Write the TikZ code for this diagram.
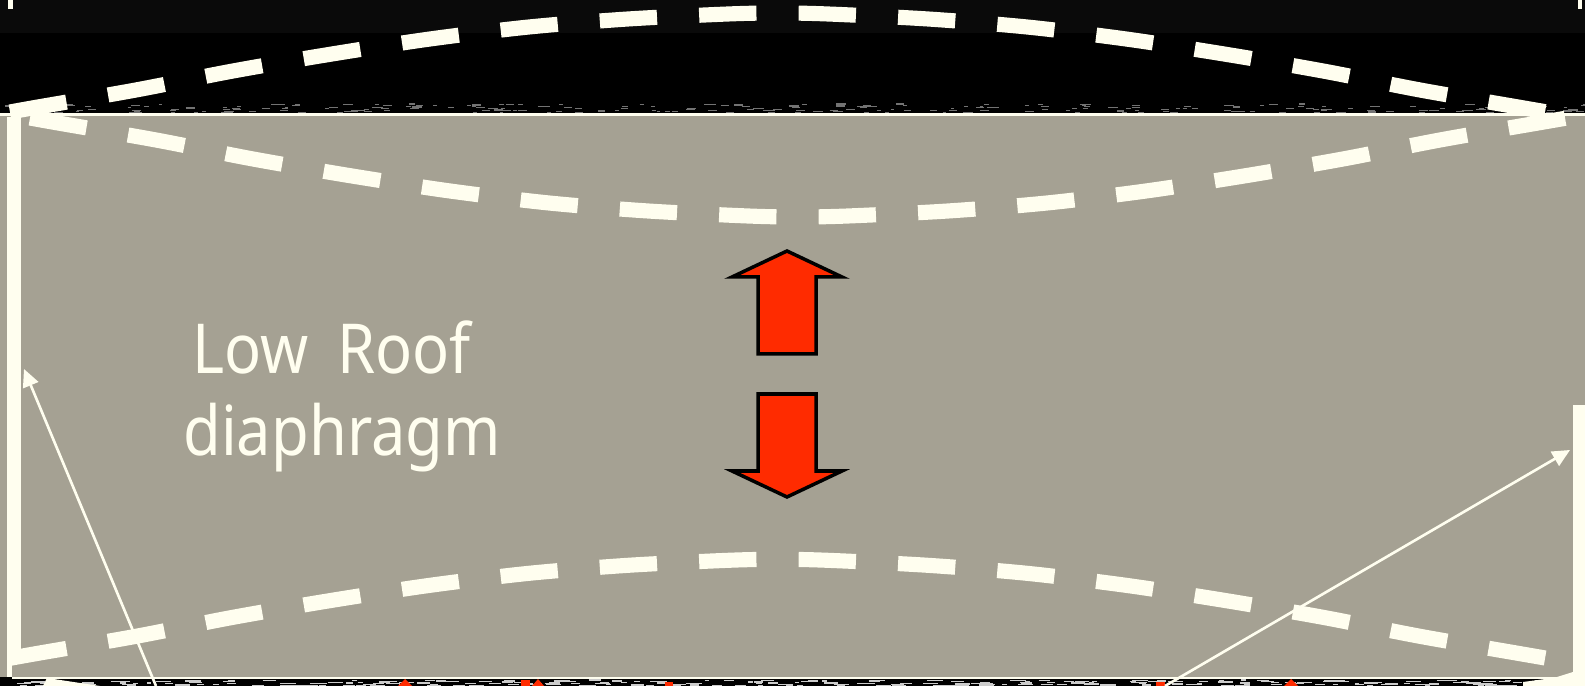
\documentclass[tikz,border=0pt]{standalone}
\usepackage{fontspec}
\setmainfont{Noto Sans}[FakeStretch=0.89]
\usetikzlibrary{arrows.meta}

\definecolor{roofgray}{HTML}{A5A193}
\definecolor{cream}{HTML}{FFFEEF}
\definecolor{loadred}{HTML}{FF2B00}
\definecolor{topband}{HTML}{0A0A0A}

\tikzset{
  sagline/.style={cream,line width=4.3pt,dash pattern=on 16.3pt off 12pt},
  loadarrow/.style={draw=black,line width=1pt,fill=loadred,line join=miter},
  thinarrow/.style={cream,line width=0.75pt,-{Triangle[length=5pt,width=4.6pt]}},
  wallbar/.style={fill=cream,draw=none}
}
\def\sagpoints{(10,112) (38,107) (136,90) (233,71) (332,54) (430,39) (529,27) (628,19) (728,14) (778,13)
  (828,14) (928,19) (1027,27) (1126,39) (1224,54) (1323,71) (1420,90) (1518,107) (1547,112)}

\begin{document}
\begin{tikzpicture}[x=0.01cm,y=-0.01cm]
\useasboundingbox (0,0) rectangle (1585,686);
\clip (0,0) rectangle (1585,686);

\fill[black] (0,0) rectangle (1585,686);
\fill[topband] (0,0) rectangle (1585,33);
\fill[cream] (8,0) rectangle (13,9);
\fill[cream] (1578,0) rectangle (1582,9);

% speckle along the edges of the slab
\pgfmathsetseed{41}
\foreach \i in {1,...,260}{
  \pgfmathsetmacro{\px}{rnd*1585}
  \pgfmathsetmacro{\py}{104+rnd*9}
  \pgfmathsetmacro{\qx}{rnd*1585}
  \pgfmathsetmacro{\qy}{680+rnd*6}
  \draw[white!45!black,line width=0.3pt] (\px,\py) -- ++(3+rnd*7,0);
  \draw[white!80!black,line width=0.35pt] (\qx,\qy) -- ++(4+rnd*12,0);
}

% tips of the loads below the slab
\fill[loadred] (398,686) -- (405,679) -- (412,686) -- cycle;
\fill[loadred] (521,680) rectangle (530,686);
\fill[loadred] (532,686) -- (538,679) -- (544,686) -- cycle;
\fill[loadred] (665,682) rectangle (673,686);
\fill[loadred] (1156,682) rectangle (1165,686);
\fill[loadred] (1284,686) -- (1291,679) -- (1298,686) -- cycle;

% ends of the next sag line
\fill[cream] (43,686) -- (47,678) -- (100,686) -- cycle;
\fill[cream] (1523,686) -- (1523,682) -- (1560,677) -- (1585,677) -- (1585,686) -- cycle;

\fill[roofgray] (0,115) rectangle (1585,677);
\draw[cream,line width=0.75pt] (0,114.5) -- (1585,114.5);
\draw[cream,line width=0.85pt] (12,678) -- (1585,678);

\fill[wallbar] (7,117) rectangle (21,660);
\fill[wallbar] (7,660) rectangle (12,677);
\fill[wallbar] (1573,405) rectangle (1585,679);
\fill[cream] (1557,677) -- (1573,672) -- (1573,679) -- cycle;

% leaders to the walls
\coordinate (leftfoot) at (156,686);
\coordinate (leftwall) at (24,369);
\coordinate (rightfoot) at (1165,686);
\coordinate (rightwall) at (1570,450);
\draw[thinarrow] (leftfoot) -- (leftwall);
\draw[thinarrow] (rightfoot) -- (rightwall);

% deflected shapes
\draw[sagline] plot[smooth,tension=0.5] coordinates {\sagpoints};
\begin{scope}[shift={(20,230)},yscale=-1]
\draw[sagline] plot[smooth,tension=0.5] coordinates {\sagpoints};
\end{scope}
\begin{scope}[yshift=-5.46cm]
\draw[sagline] plot[smooth,tension=0.5] coordinates {\sagpoints};
\end{scope}

% loads
\draw[loadarrow] (787,251) -- (842,277) -- (816,277) -- (816,354) -- (758,354) -- (758,277) -- (732,277) -- cycle;
\draw[loadarrow] (787,497) -- (842,471) -- (816,471) -- (816,394) -- (758,394) -- (758,471) -- (732,471) -- cycle;

\node[cream,font=\fontsize{19.6}{23.3}\selectfont,align=center,anchor=center] (rooflabel) at (342,396) {Low\hspace{0.42em}Roof\kern0.3em\\diaphragm};

\end{tikzpicture}
\end{document}
